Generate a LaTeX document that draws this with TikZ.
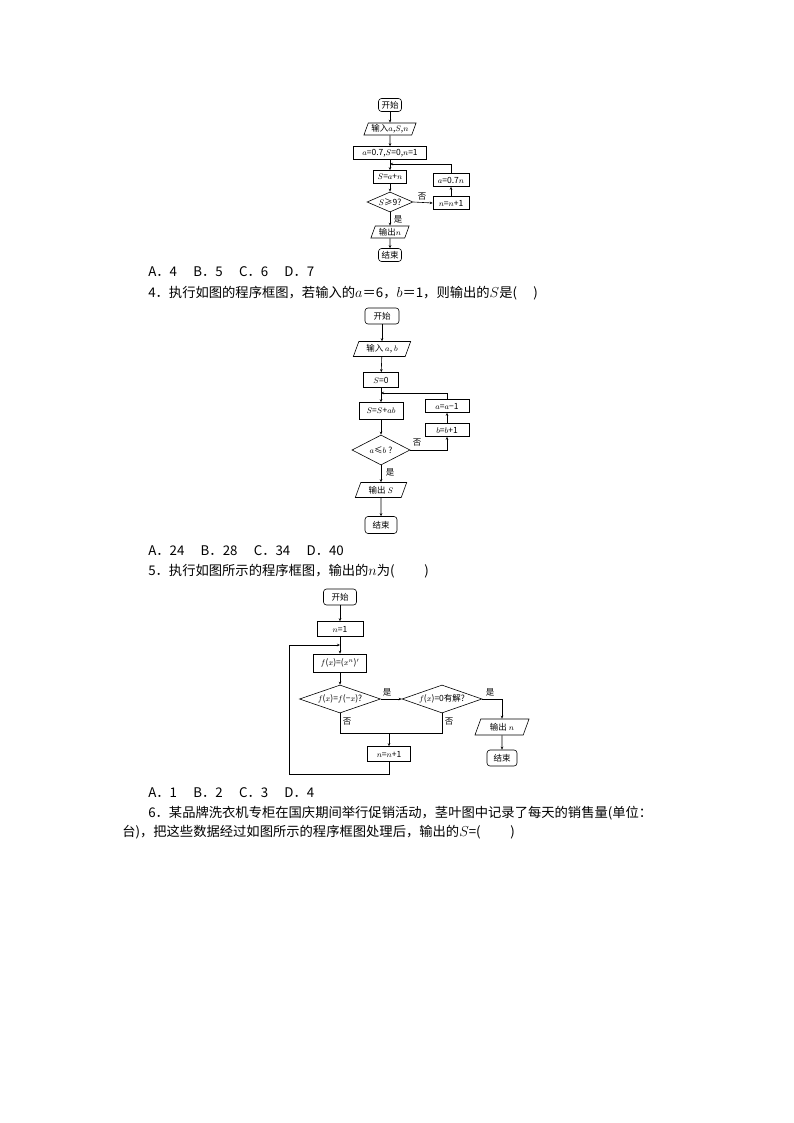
\documentclass[tikz,border=0pt]{standalone}
\usepackage{fontspec}
\setmainfont{Noto Sans CJK SC}
\usetikzlibrary{shapes.geometric,arrows.meta}
\begin{document}
\begin{tikzpicture}[x=1pt,y=-1pt,
 every node/.style={font=\fontsize{8.5}{9}\selectfont,inner sep=1pt},
 term/.style={draw,rounded corners=3pt,minimum height=13,inner xsep=3pt},
 proc/.style={draw,minimum height=13,inner xsep=2pt},
 io/.style={draw,trapezium,trapezium left angle=70,trapezium right angle=110,minimum height=12,inner xsep=1pt},
 dec/.style={draw,diamond,aspect=2.4,inner sep=0pt},
 txt/.style={anchor=west,font=\fontsize{13.3}{14}\selectfont,inner sep=0pt},
 lab/.style={font=\fontsize{8.5}{9}\selectfont},
 arr/.style={-{Stealth[length=3pt,width=2.5pt]}},
 line width=0.6pt]
\useasboundingbox (0,0) rectangle (794,1123);
% chart 1
\node[term] (s1) at (390,105) {开始};
\node[io] (i1) at (390,129) {输入$a$,$S$,$n$};
\node[proc,minimum width=73] (p1) at (390,153) {$a$=0.7,$S$=0,$n$=1};
\node[proc,minimum width=33] (p2) at (390,177) {$S$=$a$+$n$};
\node[dec,minimum width=46,minimum height=20] (d1) at (390,202) {$S$≥9?};
\node[io] (o1) at (390,232) {输出$n$};
\node[term] (e1) at (390,255) {结束};
\node[proc,minimum width=36] (r1) at (451,180) {$a$=0.7$n$};
\node[proc,minimum width=36] (r2) at (451,203) {$n$=$n$+1};
\coordinate (c1) at (390,164);
\draw[arr] (s1)--(i1); \draw[arr] (i1)--(p1); \draw[arr] (p1)--(p2); \draw[arr] (p2)--(d1);
\draw[arr] (d1)--(o1); \draw[arr] (o1)--(e1);
\draw[arr] (d1.east)--(r2.west); \draw[arr] (r2)--(r1); \draw[arr] (r1.north)|-(c1);
\node[lab] at (422,197) {否}; \node[lab] at (398,219) {是};
\node[txt] (t1) at (148,272) {A．4　 B．5　 C．6　 D．7};
\node[txt] (t2) at (148,293) {4．执行如图的程序框图，若输入的$a$＝6，$b$＝1，则输出的$S$是(　 )};
% chart 2
\node[term,minimum width=34,minimum height=16] (s2) at (382,316) {开始};
\node[io,minimum height=15] (i2) at (382,349) {输入 $a$, $b$};
\node[proc,minimum width=35,minimum height=15] (p3) at (381,380) {$S$=0};
\node[proc,minimum width=44,minimum height=17] (p4) at (381,411) {$S$=$S$+$ab$};
\node[dec,minimum width=58,minimum height=30] (d2) at (381,450) {$a$≤$b$ ?};
\node[io,minimum height=15] (o2) at (381,490) {输出 $S$};
\node[term,minimum width=32,minimum height=17] (e2) at (381,525) {结束};
\node[proc,minimum width=44] (r3) at (447,406) {$a$=$a$−1};
\node[proc,minimum width=44] (r4) at (447,430) {$b$=$b$+1};
\coordinate (c2) at (381,393);
\draw[arr] (s2)--(i2); \draw[arr] (i2)--(p3); \draw[arr] (p3)--(p4); \draw[arr] (p4)--(d2);
\draw[arr] (d2)--(o2); \draw[arr] (o2)--(e2);
\draw[arr] (d2.east)-|(r4.south); \draw[arr] (r4)--(r3); \draw[arr] (r3.north)|-(c2);
\node[lab] at (417,443) {否}; \node[lab] at (390,472) {是};
\node[txt] (t3) at (148,551) {A．24　 B．28　 C．34　 D．40};
\node[txt] (t4) at (148,571) {5．执行如图所示的程序框图，输出的$n$为(　 　)};
% chart 3
\node[term,minimum width=33,minimum height=16] (s3) at (340,597) {开始};
\node[proc,minimum width=46,minimum height=15] (p5) at (340,629) {$n$=1};
\node[proc,minimum width=53,minimum height=18] (p6) at (340,663) {$f$($x$)=($x^n$)$'$};
\node[dec,minimum width=81,minimum height=28] (d3) at (340,699) {$f$($x$)=$f$(−$x$)?};
\node[dec,minimum width=80,minimum height=28] (d4) at (442,699) {$f$($x$)=0有解?};
\node[io,minimum height=16,minimum width=50] (o3) at (502,727) {输出 $n$};
\node[term,minimum width=30,minimum height=16] (e3) at (502,758) {结束};
\node[proc,minimum width=43,minimum height=15] (p7) at (389,754) {$n$=$n$+1};
\coordinate (c3) at (340,645);
\coordinate (c4) at (389,733);
\draw[arr] (s3)--(p5); \draw[arr] (p5)--(p6); \draw[arr] (p6)--(d3);
\draw[arr] (d3.east)--(d4.west); \draw[arr] (d4.east)-|(o3.north); \draw[arr] (o3)--(e3);
\draw (d3.south)|-(c4); \draw (d4.south)|-(c4); \draw[arr] (c4)--(p7);
\draw[arr] (p7.south)--++(0,12)-|(289,645)--(c3);
\node[lab] at (387,692) {是}; \node[lab] at (490,692) {是};
\node[lab] at (347,722) {否}; \node[lab] at (449,722) {否};
\node[txt] (t5) at (148,793) {A．1　 B．2　 C．3　 D．4};
\node[txt] (t6) at (148,813) {6．某品牌洗衣机专柜在国庆期间举行促销活动，茎叶图中记录了每天的销售量(单位：};
\node[txt] (t7) at (122,832) {台)，把这些数据经过如图所示的程序框图处理后，输出的$S$=(　 　)};
\end{tikzpicture}
\end{document}
